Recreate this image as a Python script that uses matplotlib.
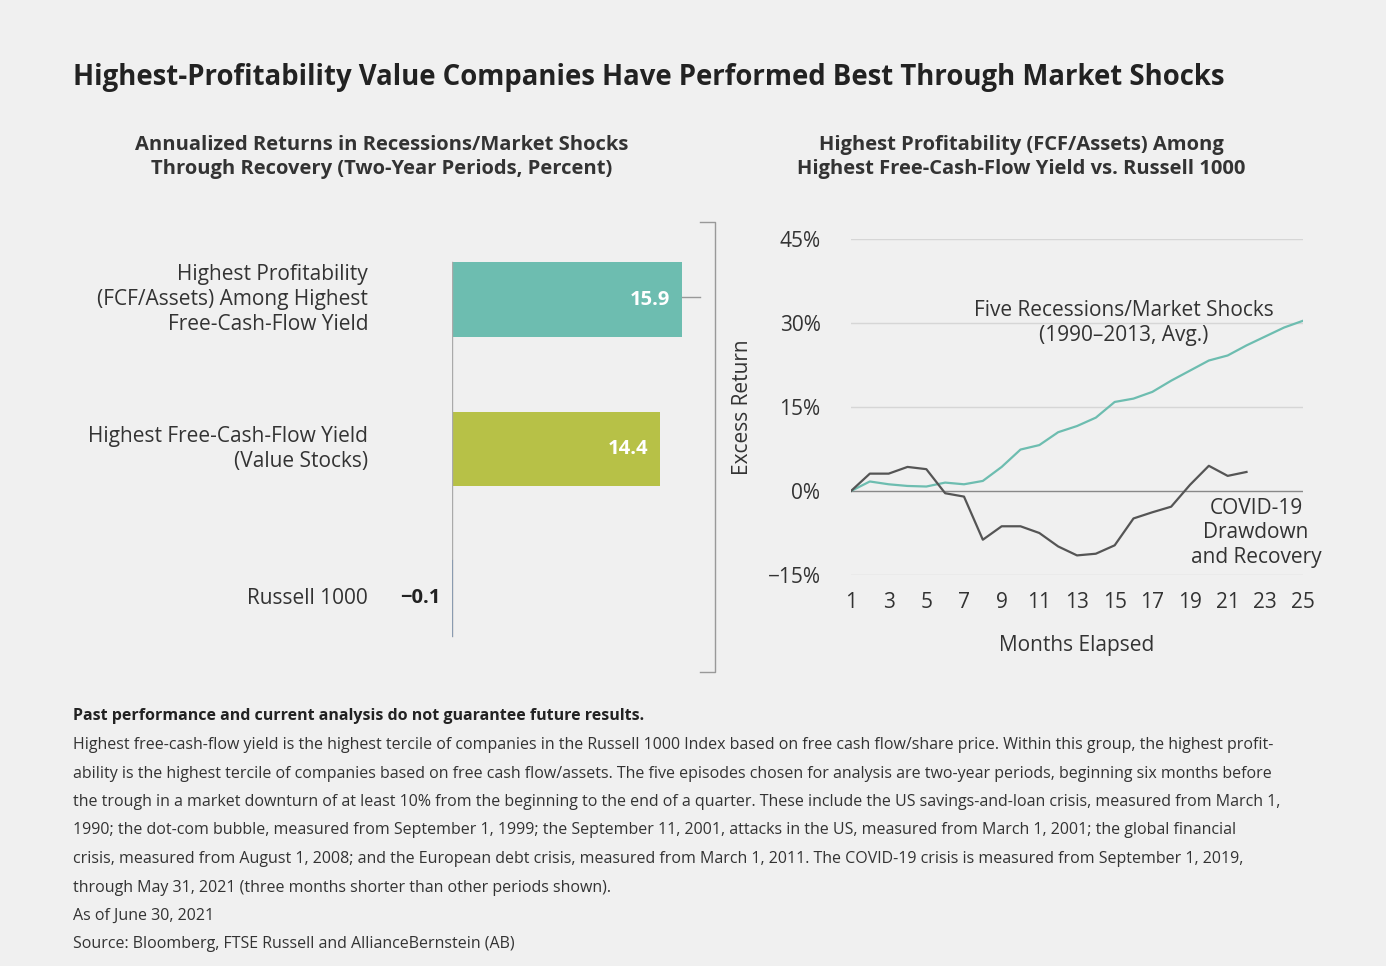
import numpy as np
import matplotlib.pyplot as plt
from matplotlib.lines import Line2D

W, H = 1386, 966
BG = "#f0f0f0"
TEAL = "#6dbdb0"
OLIVE = "#b7c147"
GRAY = "#555555"

bar_labels = ["Highest Profitability\n(FCF/Assets) Among Highest\nFree-Cash-Flow Yield",
              "Highest Free-Cash-Flow Yield\n(Value Stocks)",
              "Russell 1000"]
bar_values = [15.9, 14.4, -0.1]
bar_colors = [TEAL, OLIVE, "#8a9bb0"]

months = list(range(1, 26))
five_shocks = [0, 1.7, 1.2, 0.9, 0.8, 1.5, 1.2, 1.8, 4.3, 7.4, 8.2, 10.5, 11.6, 13.1,
               15.9, 16.5, 17.7, 19.7, 21.5, 23.3, 24.2, 26.0, 27.6, 29.2, 30.4]
covid = [0, 3.1, 3.1, 4.3, 3.9, -0.4, -1.0, -8.7, -6.3, -6.3, -7.5, -9.9, -11.5, -11.2,
         -9.7, -4.9, -3.8, -2.8, 1.1, 4.5, 2.7, 3.4]

plt.rcParams['font.family'] = ['Open Sans', 'DejaVu Sans']
fig = plt.figure(figsize=(W / 100, H / 100), dpi=100, facecolor=BG)

def box(x0, y0, x1, y1):
    return [x0 / W, 1 - y1 / H, (x1 - x0) / W, (y1 - y0) / H]

FS = 15
fig.text(73 / W, 1 - 78 / H, "Highest-Profitability Value Companies Have Performed Best Through Market Shocks",
         fontsize=19.8, fontweight='bold', va='center', color="#222222")
fig.text(382 / W, 1 - 157 / H, "Annualized Returns in Recessions/Market Shocks\nThrough Recovery (Two-Year Periods, Percent)",
         fontsize=14.5, fontweight='bold', ha='center', va='center', color="#333333", linespacing=1.25)
fig.text(1021 / W, 1 - 157 / H, "Highest Profitability (FCF/Assets) Among\nHighest Free-Cash-Flow Yield vs. Russell 1000",
         fontsize=14.5, fontweight='bold', ha='center', va='center', color="#333333", linespacing=1.25)

# bar chart
ax1 = fig.add_axes(box(452, 225, 700, 673))
ax1.set_facecolor(BG)
ypos = [0, 1, 2]
ax1.barh(ypos, bar_values, height=0.5, color=bar_colors)
ax1.set_ylim(2.5, -0.5)
ax1.set_xlim(0, (700 - 452) / 14.47)
ax1.axis('off')
ax1.plot([0, 0], [-0.25, 2.25], color="#aaaaaa", lw=1)
ax1.plot([0, 0], [1.75, 2.25], color="#8a9bb0", lw=1.5)
for y, v, lab in zip(ypos, bar_values, bar_labels):
    if v > 1:
        ax1.text(v - 0.8, y, f"{v}", ha='right', va='center', color='white', fontsize=14.5, fontweight='bold')
    else:
        ax1.text(-0.8, y, f"{v}".replace("-", "\u2212"), ha='right', va='center', color='#222222',
                 fontsize=14.5, fontweight='bold')
    ax1.text(-5.8, y, lab, ha='right', va='center', fontsize=FS, color="#333333",
             linespacing=1.25, clip_on=False)

# bracket
bc = "#999999"
fig.add_artist(Line2D([700 / W, 715 / W, 715 / W, 700 / W], [1 - 222 / H, 1 - 222 / H, 1 - 672 / H, 1 - 672 / H],
                      color=bc, lw=1))
fig.add_artist(Line2D([682 / W, 700 / W], [1 - 297 / H, 1 - 297 / H], color=bc, lw=1))
fig.text(742 / W, 1 - 407 / H, "Excess Return", rotation=90, ha='center', va='center', fontsize=FS, color="#333333")

# line chart
ax2 = fig.add_axes(box(851, 239, 1303, 575))
ax2.set_facecolor(BG)
ax2.plot(months, five_shocks, color=TEAL, lw=1.6)
ax2.plot(months[:len(covid)], covid, color=GRAY, lw=1.6)
ax2.set_xlim(1, 25)
ax2.set_ylim(-15, 45)
ax2.set_yticks([-15, 0, 15, 30, 45])
ax2.set_yticklabels(["\u221215%", "0%", "15%", "30%", "45%"])
ax2.set_xticks(months[::2])
for y in [-15, 15, 30, 45]:
    ax2.axhline(y, color="#d6d6d6", lw=1, zorder=0)
ax2.axhline(0, color="#888888", lw=1, zorder=0)
for s in ax2.spines.values():
    s.set_visible(False)
ax2.tick_params(length=0, labelsize=FS, colors="#333333")
ax2.tick_params(axis='y', pad=22)
ax2.tick_params(axis='x', pad=12)
ax2.set_xlabel("Months Elapsed", fontsize=FS, color="#333333", labelpad=16)
ax2.text(15.5, 30.0, "Five Recessions/Market Shocks\n(1990\u20132013, Avg.)",
         ha='center', va='center', fontsize=FS, color="#333333", linespacing=1.2)
ax2.text(22.5, -7.5, "COVID-19\nDrawdown\nand Recovery", ha='center', va='center', fontsize=FS,
         color="#333333", linespacing=1.2)

# notes
fig.text(73 / W, 1 - 716 / H, "Past performance and current analysis do not guarantee future results.",
         fontsize=11.5, fontweight='bold', va='center', color="#222222")
notes = [
    "Highest free-cash-flow yield is the highest tercile of companies in the Russell 1000 Index based on free cash flow/share price. Within this group, the highest profit-",
    "ability is the highest tercile of companies based on free cash flow/assets. The five episodes chosen for analysis are two-year periods, beginning six months before",
    "the trough in a market downturn of at least 10% from the beginning to the end of a quarter. These include the US savings-and-loan crisis, measured from March 1,",
    "1990; the dot-com bubble, measured from September 1, 1999; the September 11, 2001, attacks in the US, measured from March 1, 2001; the global financial",
    "crisis, measured from August 1, 2008; and the European debt crisis, measured from March 1, 2011. The COVID-19 crisis is measured from September 1, 2019,",
    "through May 31, 2021 (three months shorter than other periods shown).",
    "As of June 30, 2021",
    "Source: Bloomberg, FTSE Russell and AllianceBernstein (AB)",
]
for i, line in enumerate(notes):
    fig.text(73 / W, 1 - (745 + 28.5 * i) / H, line, fontsize=11.5, va='center', color="#333333")

fig.savefig("out.png", dpi=100, facecolor=BG)
